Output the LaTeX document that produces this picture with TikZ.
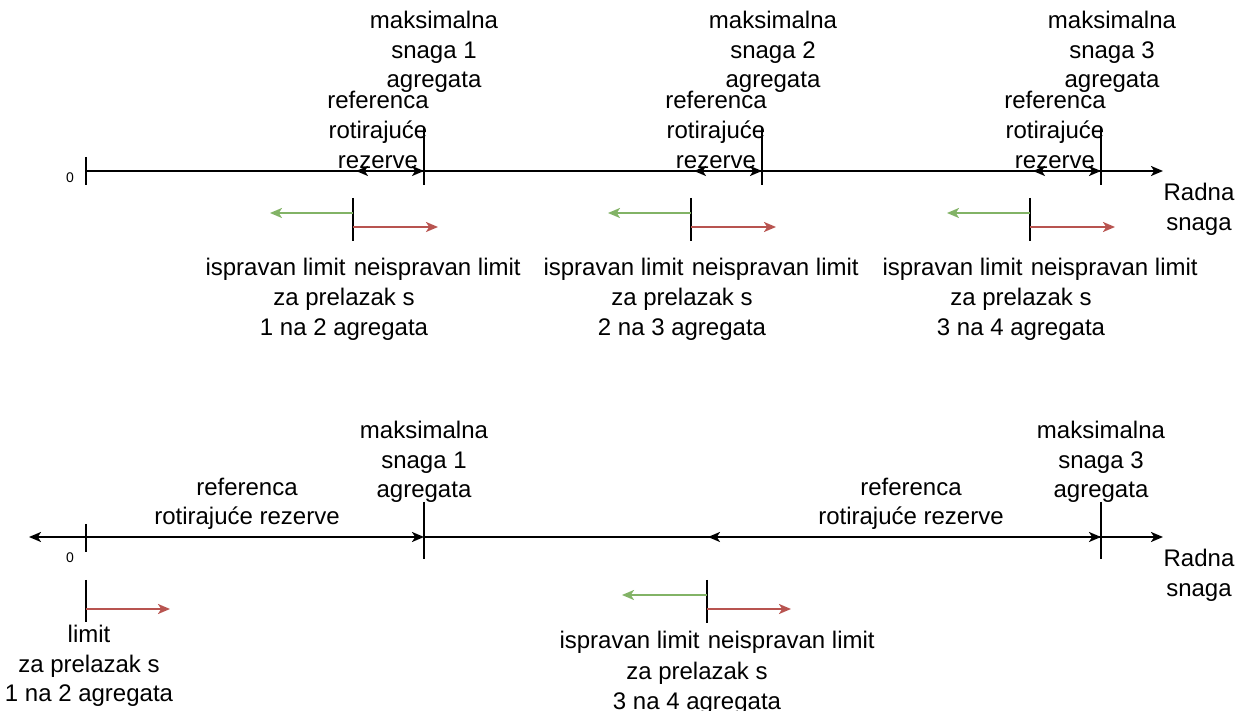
\documentclass[tikz,border=0pt]{standalone}
\usepackage{fontspec}
\setmainfont{Liberation Sans}
\usetikzlibrary{arrows.meta}
\definecolor{okgreen}{HTML}{82B366}
\definecolor{badred}{HTML}{B85450}
\tikzset{
  lbl/.style={font=\fontsize{12pt}{14.8pt}\selectfont, align=center, inner sep=0pt},
  zero/.style={font=\fontsize{7pt}{8pt}\selectfont, inner sep=0pt},
  axisline/.style={line width=1pt, -{Stealth[length=6pt,width=5pt,inset=1.6pt]}},
  span/.style={line width=1pt, {Stealth[length=6pt,width=5pt,inset=1.6pt]}-{Stealth[length=6pt,width=5pt,inset=1.6pt]}},
  tick/.style={line width=1pt},
  okarrow/.style={line width=1pt, draw=okgreen, -{Stealth[length=6pt,width=5pt,inset=1.6pt,color=okgreen]}},
  badarrow/.style={line width=1pt, draw=badred, -{Stealth[length=6pt,width=5pt,inset=1.6pt,color=badred]}},
}
\begin{document}
\begin{tikzpicture}[x=0.5pt,y=-0.5pt]
\useasboundingbox (0,0) rectangle (1250,711);

% ---------- upper axis ----------
\coordinate (u0) at (86,171);
\coordinate (uend) at (1163,171);
\draw[axisline] (u0) -- (uend);
\draw[tick] (86,157) -- (86,185);
\node[zero] (uzero) at (70,178) {0};
\foreach \i/\x/\cx/\rx in {1/424/434/378, 2/762/773/716, 3/1101/1112/1055} {
  \coordinate (um\i) at (\x,171);
  \coordinate (ur\i) at ({\x-68},171);
  \draw[tick] (\x,127) -- (\x,185);
  \draw[span] (ur\i) -- (um\i);
  \node[lbl] (umax\i) at (\cx,52) {maksimalna\\snaga \i\\agregata};
  \node[lbl] (uref\i) at (\rx,130) {referenca\\rotirajuće\\rezerve};
}
\node[lbl] (urad) at (1199,209) {Radna\\snaga};

% upper switching limits
\foreach \x/\a/\b in {353/1/2, 691/2/3, 1030/3/4} {
  \coordinate (lt\a) at (\x,198);
  \coordinate (lb\a) at (\x,241);
  \draw[tick] (lt\a) -- (lb\a);
  \coordinate (g0\a) at (\x,213);
  \coordinate (g1\a) at ({\x-83},213);
  \draw[okarrow] (g0\a) -- (g1\a);
  \coordinate (r0\a) at (\x,227);
  \coordinate (r1\a) at ({\x+85},227);
  \draw[badarrow] (r0\a) -- (r1\a);
  \node[lbl, anchor=base east] (ok\a) at ({\x-7},276) {ispravan limit};
  \node[lbl, anchor=base west] (bad\a) at ({\x+0.5},276) {neispravan limit};
  \node[lbl] (sw\a) at ({\x-9},314) {za prelazak s\\\a{} na \b{} agregata};
}

% ---------- lower axis ----------
\coordinate (lleft) at (29,537);
\coordinate (l0) at (86,537);
\coordinate (lm1) at (424,537);
\coordinate (lr3) at (708,537);
\coordinate (lm3) at (1101,537);
\coordinate (lend) at (1163,537);
\draw[span] (lleft) -- (lm1);
\draw[axisline] (lm1) -- (lend);
\draw[span] (lr3) -- (lm3);
\draw[tick] (86,524) -- (86,552);
\draw[tick] (424,502) -- (424,559);
\draw[tick] (1101,502) -- (1101,559);
\node[zero] (lzero) at (70,558) {0};
\node[lbl] (lmax1) at (424,462) {maksimalna\\snaga 1\\agregata};
\node[lbl] (lmax3) at (1101,462) {maksimalna\\snaga 3\\agregata};
\node[lbl] (lref1) at (247,504) {referenca\\rotirajuće rezerve};
\node[lbl] (lref3) at (911,504) {referenca\\rotirajuće rezerve};
\node[lbl] (lrad) at (1199,575) {Radna\\snaga};

% lower switching limits
\coordinate (klt) at (86,580);
\coordinate (klb) at (86,622);
\draw[tick] (klt) -- (klb);
\coordinate (kr0) at (86,609);
\coordinate (kr1) at (170,609);
\draw[badarrow] (kr0) -- (kr1);
\node[lbl] (klim) at (89,666) {limit\\za prelazak s\\1 na 2 agregata};

\coordinate (mlt) at (707,580);
\coordinate (mlb) at (707,623);
\draw[tick] (mlt) -- (mlb);
\coordinate (mg0) at (707,595);
\coordinate (mg1) at (622,595);
\draw[okarrow] (mg0) -- (mg1);
\coordinate (mr0) at (707,609);
\coordinate (mr1) at (791,609);
\draw[badarrow] (mr0) -- (mr1);
\node[lbl, anchor=base east] (mok) at (700,649) {ispravan limit};
\node[lbl, anchor=base west] (mbad) at (707.5,649) {neispravan limit};
\node[lbl] (msw) at (697,688) {za prelazak s\\3 na 4 agregata};
\end{tikzpicture}
\end{document}
